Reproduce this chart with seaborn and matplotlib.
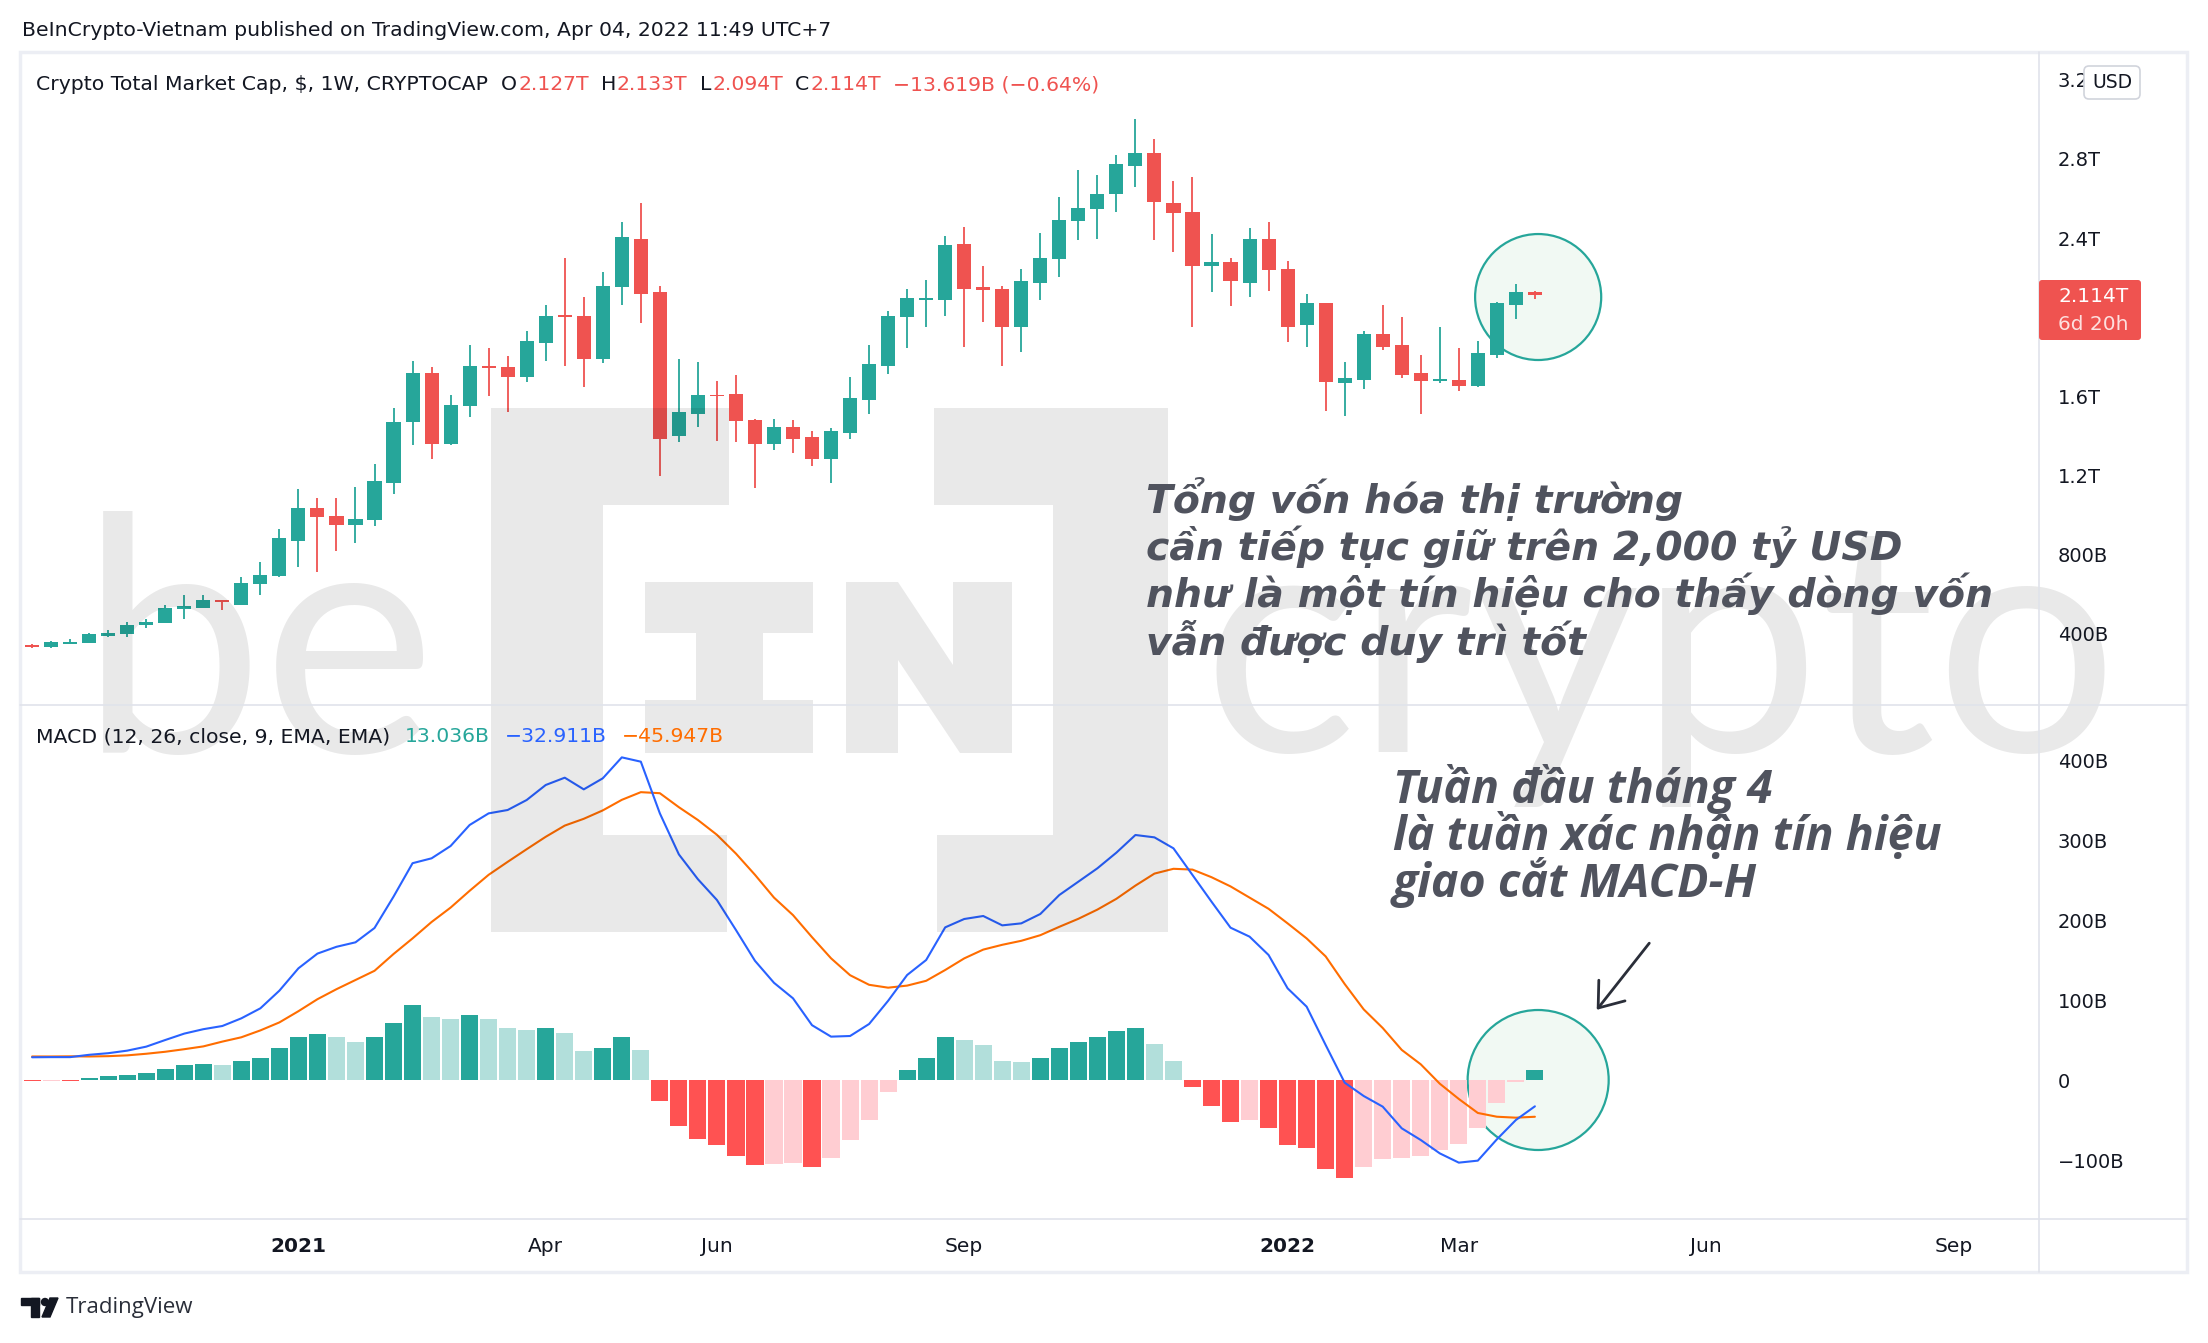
import matplotlib
matplotlib.use("Agg")
import matplotlib.pyplot as plt
import matplotlib.dates as mdates
from matplotlib.patches import Ellipse, Polygon, Rectangle, FancyBboxPatch, Circle
import numpy as np
import pandas as pd
import seaborn as sns

# weekly candles, Crypto Total Market Cap (trillions USD)
weeks = pd.date_range("2020-09-28", periods=80, freq="7D")
opens = [0.343, 0.334, 0.349, 0.350, 0.389, 0.398, 0.441, 0.455, 0.526, 0.529,
         0.570, 0.547, 0.653, 0.692, 0.870, 1.037, 0.996, 0.951, 0.976, 1.164,
         1.468, 1.718, 1.361, 1.553, 1.753, 1.748, 1.700, 1.867, 2.007, 2.007,
         1.790, 2.152, 2.395, 2.127, 1.397, 1.510, 1.608, 1.611, 1.480, 1.361,
         1.445, 1.395, 1.285, 1.416, 1.583, 1.755, 2.003, 2.088, 2.088, 2.370,
         2.152, 2.143, 1.952, 2.174, 2.294, 2.484, 2.549, 2.621, 2.766, 2.830,
         2.578, 2.532, 2.260, 2.280, 2.175, 2.395, 2.244, 1.963, 2.072, 1.665,
         1.684, 1.915, 1.860, 1.718, 1.679, 1.682, 1.654, 1.810, 2.064, 2.127]
highs = [0.348, 0.363, 0.373, 0.403, 0.419, 0.458, 0.474, 0.545, 0.595, 0.595,
         0.570, 0.684, 0.762, 0.927, 1.132, 1.086, 1.086, 1.141, 1.258, 1.540,
         1.778, 1.748, 1.606, 1.860, 1.844, 1.805, 1.931, 2.062, 2.299, 2.103,
         2.229, 2.482, 2.578, 2.158, 1.789, 1.775, 1.677, 1.709, 1.485, 1.485,
         1.480, 1.425, 1.439, 1.698, 1.860, 2.032, 2.143, 2.188, 2.411, 2.455,
         2.259, 2.158, 2.245, 2.425, 2.608, 2.745, 2.720, 2.821, 3.002, 2.901,
         2.690, 2.709, 2.420, 2.299, 2.452, 2.482, 2.285, 2.119, 2.072, 1.774,
         1.931, 2.062, 2.001, 1.810, 1.950, 1.844, 1.879, 2.078, 2.168, 2.133]
lows = [0.329, 0.329, 0.348, 0.350, 0.384, 0.384, 0.428, 0.455, 0.476, 0.529,
        0.517, 0.547, 0.595, 0.684, 0.737, 0.710, 0.820, 0.856, 0.946, 1.108,
        1.356, 1.285, 1.356, 1.496, 1.599, 1.523, 1.670, 1.778, 1.753, 1.649,
        1.766, 2.062, 1.971, 1.198, 1.370, 1.445, 1.375, 1.370, 1.134, 1.326,
        1.315, 1.249, 1.164, 1.386, 1.512, 1.711, 1.845, 1.952, 2.007, 1.851,
        1.977, 1.755, 1.826, 2.088, 2.205, 2.388, 2.397, 2.534, 2.660, 2.388,
        2.331, 1.948, 2.129, 2.058, 2.104, 2.134, 1.877, 1.851, 1.528, 1.498,
        1.638, 1.835, 1.695, 1.512, 1.665, 1.629, 1.649, 1.796, 1.991, 2.094]
closes = [0.334, 0.357, 0.357, 0.398, 0.404, 0.444, 0.458, 0.529, 0.540, 0.570,
          0.558, 0.657, 0.696, 0.881, 1.037, 0.990, 0.951, 0.980, 1.171, 1.471,
          1.718, 1.361, 1.556, 1.753, 1.741, 1.700, 1.879, 2.007, 2.003, 1.790,
          2.158, 2.406, 2.119, 1.386, 1.521, 1.606, 1.600, 1.473, 1.361, 1.445,
          1.386, 1.285, 1.425, 1.592, 1.764, 2.007, 2.097, 2.097, 2.365, 2.143,
          2.135, 1.952, 2.182, 2.299, 2.491, 2.551, 2.624, 2.775, 2.830, 2.580,
          2.525, 2.260, 2.280, 2.182, 2.395, 2.239, 1.952, 2.072, 1.670, 1.693,
          1.915, 1.851, 1.709, 1.679, 1.684, 1.654, 1.819, 2.072, 2.127, 2.114]

# MACD (12, 26, 9) in billions USD
hist = [-1.0, -0.8, -1.0, 2.5, 5.0, 6.7, 9.2, 14.2, 18.75, 20.4,
        18.75, 23.75, 27.5, 40.0, 53.75, 57.5, 53.75, 47.5, 53.75, 71.25,
        93.75, 78.75, 76.25, 81.25, 76.25, 65.0, 62.5, 65.0, 58.75, 36.25,
        40.0, 53.75, 37.5, -25.8, -57.1, -73.3, -80.8, -94.6, -105.8, -104.5,
        -104.0, -108.3, -97.1, -74.6, -49.6, -14.6, 12.5, 27.5, 53.75, 50.0,
        43.75, 23.75, 23.0, 27.5, 40.0, 47.5, 53.75, 61.25, 65.0, 45.0,
        23.75, -8.3, -32.1, -52.1, -49.6, -59.6, -80.8, -84.6, -110.8, -122.1,
        -108.3, -98.3, -98.0, -94.6, -87.1, -79.6, -59.6, -28.3, -2.9, 13.036]
macd_line = [28.4, 28.6, 28.6, 31.5, 33.5, 36.7, 41.7, 50.0, 58.0, 63.5,
             67.5, 77.1, 89.6, 111.7, 139.6, 158.0, 166.5, 172.1, 190.0, 229.2,
             271.0, 277.1, 292.5, 318.75, 333.3, 337.5, 350.0, 368.75, 377.9, 363.3,
             377.1, 403.3, 397.9, 333.3, 282.0, 251.0, 225.0, 187.5, 149.0, 121.5,
             102.1, 68.5, 54.2, 55.0, 70.0, 99.0, 131.25, 150.0, 190.8, 201.25,
             205.0, 193.3, 195.8, 207.5, 231.25, 247.9, 264.6, 284.2, 306.25, 303.3,
             289.6, 256.25, 222.9, 190.4, 179.2, 156.25, 114.6, 91.7, 43.75, -3.3,
             -20.0, -33.3, -60.4, -75.0, -91.7, -103.3, -100.8, -74.2, -50.0, -32.911]
signal_line = [29.4, 29.4, 29.6, 29.4, 29.8, 30.8, 32.8, 35.3, 38.5, 42.0,
               48.0, 53.4, 62.0, 72.0, 86.0, 101.0, 113.5, 125.0, 136.5, 157.5,
               177.0, 197.5, 215.5, 236.5, 256.5, 272.7, 288.5, 304.0, 318.0, 326.5,
               337.0, 350.2, 359.8, 358.5, 341.0, 325.0, 306.5, 283.0, 256.5, 228.0,
               206.1, 178.5, 152.1, 131.0, 119.0, 115.4, 118.0, 124.0, 137.5, 152.0,
               163.0, 169.0, 174.0, 181.0, 191.5, 201.5, 213.0, 226.5, 243.0, 258.0,
               264.0, 263.0, 253.5, 242.0, 228.0, 214.0, 195.8, 177.0, 154.5, 120.0,
               88.3, 65.0, 37.6, 19.6, -4.6, -23.7, -41.2, -45.9, -47.1, -45.947]

price_ticks = [0.4, 0.8, 1.2, 1.6, 2.4, 2.8, 3.2]
price_labels = ["400B", "800B", "1.2T", "1.6T", "2.4T", "2.8T", "3.2T"]
macd_ticks = [-100, 0, 100, 200, 300, 400]
macd_labels = ["\u2212100B", "0", "100B", "200B", "300B", "400B"]
time_ticks = ["2021-01-04", "2021-04-05", "2021-06-07", "2021-09-06",
              "2022-01-03", "2022-03-07", "2022-06-06", "2022-09-05"]
time_labels = ["2021", "Apr", "Jun", "Sep", "2022", "Mar", "Jun", "Sep"]

UP, DN = "#26a69a", "#ef5350"
DARK = "#131722"
NOTE = "#50535e"
UI = 14.7

sns.set_theme(style="white")
plt.rcParams["font.family"] = ["DejaVu Sans"]

W, H = 2208, 1343
fig = plt.figure(figsize=(W / 100, H / 100), dpi=100)
fig.patch.set_facecolor("white")


def frac(x0, y0, x1, y1):
    return [x0 / W, 1 - y1 / H, (x1 - x0) / W, (y1 - y0) / H]


ax_p = fig.add_axes(frac(20, 52, 2039, 704))
ax_m = fig.add_axes(frac(20, 705, 2039, 1219))
ax_o = fig.add_axes([0, 0, 1, 1], zorder=5)
ax_o.set_xlim(0, W)
ax_o.set_ylim(H, 0)
ax_o.axis("off")
ax_o.patch.set_alpha(0)

x = mdates.date2num(weeks)
o, h, l, c = map(np.array, (opens, highs, lows, closes))
xlim = (x[0] - 0.636 * 7, x[0] + 105.5 * 7)

# ---- price pane
cols = np.where(c >= o, UP, DN)
ax_p.vlines(x, l, h, colors=cols, lw=1.3, zorder=2)
ax_p.bar(x, np.maximum(np.abs(c - o), 0.007), bottom=np.minimum(o, c),
         width=7 * 0.74, color=cols, linewidth=0, zorder=3)
ax_p.add_patch(Ellipse((x[-1] + 1.2, c[-1] - 0.012), 46.4, 0.637,
                       facecolor="#f1f9f3", edgecolor="#26a69a", lw=1.6, zorder=1))
ax_p.set_xlim(*xlim)
ax_p.set_ylim(0.044, 3.341)
ax_p.set_xticks([])
ax_p.yaxis.tick_right()
ax_p.set_yticks(price_ticks, price_labels)

# ---- MACD pane
hcols = []
prev = 0
for v in hist:
    if v >= 0:
        hcols.append("#26a69a" if v > prev else "#b2dfdb")
    else:
        hcols.append("#ffcdd2" if v > prev else "#ff5252")
    prev = v
ax_m.add_patch(Ellipse((x[-1] + 1.2, 0), 51.9, 175,
                       facecolor="#f1f9f3", edgecolor="#26a69a", lw=1.6, zorder=1))
ax_m.bar(x, hist, width=7 * 0.9, color=hcols, linewidth=0, zorder=2)
sns.lineplot(x=x, y=signal_line, ax=ax_m, color="#ff6d00", lw=1.5, sort=False, zorder=3)
sns.lineplot(x=x, y=macd_line, ax=ax_m, color="#2962ff", lw=1.5, sort=False, zorder=4)
ax_m.set_xlim(*xlim)
ax_m.set_ylim(-173.75, 468.75)
ax_m.yaxis.tick_right()
ax_m.set_yticks(macd_ticks, macd_labels)
ax_m.set_xticks(mdates.date2num(pd.to_datetime(time_ticks)), time_labels)
ax_m.set_xlabel("")
ax_m.set_ylabel("")
for t in ax_m.get_xticklabels():
    if t.get_text().startswith("20"):
        t.set_fontweight("bold")

for ax in (ax_p, ax_m):
    for s in ax.spines.values():
        s.set_visible(False)
    ax.grid(False)
    ax.tick_params(axis="y", length=0, pad=13.5, labelsize=14, labelcolor=DARK)
    ax.tick_params(axis="x", length=0, pad=13, labelsize=14.5, labelcolor=DARK)

# ---- frame lines
ax_o.add_patch(Rectangle((20, 52), 2167, 1220, fill=False, ec="#eceef4", lw=2.5))
ax_o.plot([2039, 2039], [52, 1272], color="#e0e3eb", lw=1.2)
ax_o.plot([20, 2187], [704.5, 704.5], color="#e0e3eb", lw=1.2)
ax_o.plot([20, 2187], [1219, 1219], color="#e0e3eb", lw=1.2)

# ---- watermark
wm = (0, 0, 0, 0.085)
shapes = [
    [(491, 408), (729, 408), (729, 505), (603, 505), (603, 835), (727, 835), (727, 932), (491, 932)],
    [(934, 408), (1168, 408), (1168, 932), (937, 932), (937, 835), (1053, 835), (1053, 505), (934, 505)],
    [(645, 582), (813, 582), (813, 633), (763, 633), (763, 700), (813, 700), (813, 753),
     (645, 753), (645, 700), (696, 700), (696, 633), (645, 633)],
    [(846, 582), (898, 582), (953, 665), (953, 582), (1012, 582), (1012, 753),
     (960, 753), (898, 660), (898, 753), (846, 753)],
]
for pts in shapes:
    ax_o.add_patch(Polygon(pts, closed=True, facecolor=wm, edgecolor="none", zorder=1))
ax_o.text(80, 753, "be", fontsize=236, family="Lato", color=wm, va="baseline", zorder=1)
ax_o.text(1203, 752, "crypto", fontsize=232, family="Lato", color=wm, va="baseline", zorder=1)

# ---- header and legends
ax_o.text(22, 31, "BeInCrypto-Vietnam published on TradingView.com, Apr 04, 2022 11:49 UTC+7",
          fontsize=UI, color=DARK, va="center", zorder=3)

renderer = fig.canvas.get_renderer()


def put_row(x0, y0, parts, size=UI):
    for s, col, gap in parts:
        t = ax_o.text(x0, y0, s, color=col, fontsize=size, va="center", ha="left", zorder=3)
        x0 = t.get_window_extent(renderer).x1 + gap


put_row(36, 85, [("Crypto Total Market Cap, $, 1W, CRYPTOCAP", DARK, 13),
                 ("O", DARK, 1), ("2.127T", DN, 12), ("H", DARK, 1), ("2.133T", DN, 12),
                 ("L", DARK, 1), ("2.094T", DN, 12), ("C", DARK, 1), ("2.114T", DN, 12),
                 ("\u221213.619B (\u22120.64%)", DN, 0)])
put_row(36, 737, [("MACD (12, 26, close, 9, EMA, EMA)", DARK, 15),
                  ("13.036B", "#26a69a", 15), ("\u221232.911B", "#2962ff", 15),
                  ("\u221245.947B", "#ff6d00", 0)])

# price tag and USD button
ax_o.add_patch(FancyBboxPatch((2039, 280), 102, 60, boxstyle="round,pad=0,rounding_size=3",
                              fc=DN, ec="none", zorder=3))
ax_o.text(2058, 296, "2.114T", color="white", fontsize=14.5, va="center", zorder=4)
ax_o.text(2058, 325, "6d 20h", color="#fde0df", fontsize=14.5, va="center", zorder=4)
ax_o.add_patch(FancyBboxPatch((2084, 66), 56, 33, boxstyle="round,pad=0,rounding_size=5",
                              fc="white", ec="#d1d4dc", lw=1.2, zorder=3))
ax_o.text(2112, 83, "USD", color=DARK, fontsize=13.5, ha="center", va="center", zorder=4)

# ---- annotations
note1 = ["T\u1ed5ng v\u1ed1n h\u00f3a th\u1ecb tr\u01b0\u1eddng",
         "c\u1ea7n ti\u1ebfp t\u1ee5c gi\u1eef tr\u00ean 2,000 t\u1ef7 USD",
         "nh\u01b0 l\u00e0 m\u1ed9t t\u00edn hi\u1ec7u cho th\u1ea5y d\u00f2ng v\u1ed1n",
         "v\u1eabn \u0111\u01b0\u1ee3c duy tr\u00ec t\u1ed1t"]
for k, line in enumerate(note1):
    ax_o.text(1146, 513 + 47.2 * k, line, family="DejaVu Sans", fontsize=28.4,
              fontweight="bold", fontstyle="oblique", color=NOTE, va="baseline", zorder=3)

note2 = ["Tu\u1ea7n \u0111\u1ea7u th\u00e1ng 4",
         "l\u00e0 tu\u1ea7n x\u00e1c nh\u1eadn t\u00edn hi\u1ec7u",
         "giao c\u1eaft MACD-H"]
for k, line in enumerate(note2):
    ax_o.text(1393, 803 + 47 * k, line, family="Open Sans", fontsize=33.5, fontweight="bold",
              fontstyle="italic", color=NOTE, va="baseline", zorder=3)

ax_o.annotate("", xy=(1595, 1012), xytext=(1651, 941),
              arrowprops=dict(arrowstyle="->,head_length=0.8,head_width=0.6",
                              mutation_scale=20, color="#2a2e39", lw=2), zorder=3)

# TradingView footer
ax_o.add_patch(Rectangle((21, 1298), 18, 7, color=DARK, zorder=3))
ax_o.add_patch(Rectangle((31, 1298), 8, 19, color=DARK, zorder=3))
ax_o.add_patch(Circle((45, 1302), 3.5, color=DARK, zorder=3))
ax_o.add_patch(Polygon([(50, 1298), (58, 1298), (50, 1317), (42, 1317)], color=DARK, zorder=3))
ax_o.text(66, 1308, "TradingView", fontsize=16, family="Open Sans", color="#2a2e39",
          va="center", zorder=3)

fig.savefig("out.png", dpi=100)
